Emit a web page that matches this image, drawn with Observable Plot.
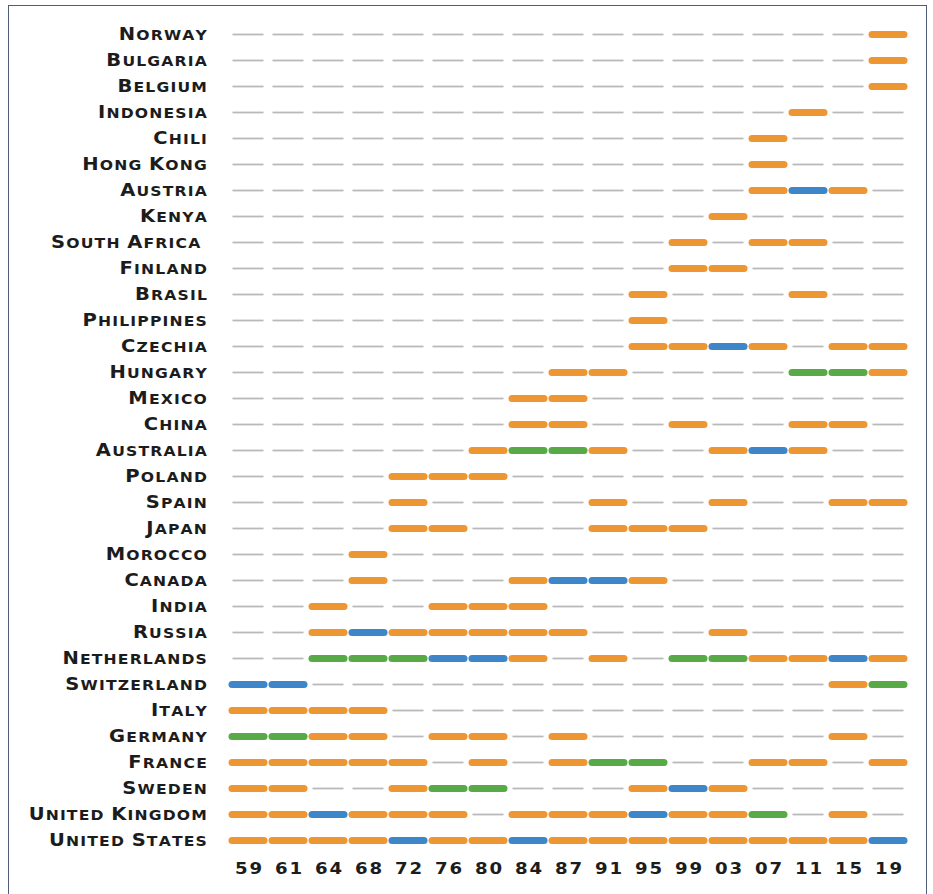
<!DOCTYPE html>
<html>
<head>
<meta charset="utf-8">
<script src="https://cdn.jsdelivr.net/npm/d3@7"></script>
<script src="https://cdn.jsdelivr.net/npm/@observablehq/plot@0.6"></script>
<style>
  html, body { margin: 0; padding: 0; background: #fff; }
  #wrap { position: relative; width: 933px; height: 894px; overflow: hidden; }
  #frame { position: absolute; left: 7.5px; top: 4.5px; width: 919.5px; height: 900px;
           border: 1.5px solid #4f5d78; border-bottom: none; box-sizing: border-box; pointer-events: none; }
  #chart { position: absolute; left: 0; top: 0; }
</style>
</head>
<body>
<div id="wrap"><div id="chart"></div><div id="frame"></div></div>
<script>
// Column labels (years)
const years = ["59","61","64","68","72","76","80","84","87","91","95","99","03","07","11","15","19"];

// Row labels, top to bottom
const countries = [
  "Norway","Bulgaria","Belgium","Indonesia","Chili","Hong Kong","Austria","Kenya",
  "South Africa\u00a0","Finland","Brasil","Philippines","Czechia","Hungary","Mexico","China",
  "Australia","Poland","Spain","Japan","Morocco","Canada","India","Russia",
  "Netherlands","Switzerland","Italy","Germany","France","Sweden","United Kingdom","United States"
];

// Status per country, one character per year: O = orange, B = blue, G = green, . = none
const status = [
  "................O", // Norway
  "................O", // Bulgaria
  "................O", // Belgium
  "..............O..", // Indonesia
  ".............O...", // Chili
  ".............O...", // Hong Kong
  ".............OBO.", // Austria
  "............O....", // Kenya
  "...........O.OO..", // South Africa
  "...........OO....", // Finland
  "..........O...O..", // Brasil
  "..........O......", // Philippines
  "..........OOBO.OO", // Czechia
  "........OO....GGO", // Hungary
  ".......OO........", // Mexico
  ".......OO..O..OO.", // China
  "......OGGO..OBO..", // Australia
  "....OOO..........", // Poland
  "....O....O..O..OO", // Spain
  "....OO...OOO.....", // Japan
  "...O.............", // Morocco
  "...O...OBBO......", // Canada
  "..O..OOO.........", // India
  "..OBOOOOO...O....", // Russia
  "..GGGBBO.O.GGOOBO", // Netherlands
  "BB.............OG", // Switzerland
  "OOOO.............", // Italy
  "GGOO.OO.O......O.", // Germany
  "OOOOO.O.OGG..OO.O", // France
  "OO..OGG...OBO....", // Sweden
  "OOBOOO.OOOBOOG.O.", // United Kingdom
  "OOOOBOOBOOOOOOOOB"  // United States
];

const codes = ["O","B","G"];
const colors = ["#ee9632","#3c86c9","#57aa45"];

const cells = [];
countries.forEach((c, i) => {
  [...status[i]].forEach((s, j) => cells.push({country: c, year: years[j], s}));
});

const chart = Plot.plot({
  width: 933,
  height: 894,
  marginTop: 31,
  marginBottom: 51,
  marginLeft: 227.5,
  marginRight: 25.5,
  style: {fontFamily: "'DejaVu Sans', sans-serif", background: "transparent", color: "#1c1c1c"},
  x: {type: "band", domain: years, padding: 0, label: null},
  y: {type: "point", domain: countries, padding: 0, label: null},
  color: {domain: codes, range: colors},
  marks: [
    Plot.tickY(cells.filter(d => d.s === "."), {
      x: "year", y: "country", stroke: "#b9b9b9", strokeWidth: 1.8, insetLeft: 4.5, insetRight: 4.5
    }),
    Plot.tickY(cells.filter(d => d.s !== "."), {
      x: "year", y: "country", stroke: "s", strokeWidth: 7, strokeLinecap: "round",
      insetLeft: 4, insetRight: 4
    }),
    Plot.axisX({anchor: "bottom", tickSize: 0, tickPadding: 19, fontSize: 16.5, fontWeight: "bold", label: null}),
    Plot.axisY({anchor: "left", tickSize: 0, tickPadding: 20, fontSize: 17, fontWeight: "bold", label: null})
  ]
});

document.getElementById("chart").appendChild(chart);

// wider tick labels
d3.select(chart).selectAll('g[aria-label="x-axis tick label"] text').each(function() {
  const tr = this.getAttribute("transform") || "";
  this.setAttribute("transform", tr + " scale(1.1,1)");
  d3.select(this).style("letter-spacing", "1.6px").attr("dx", "0.8");
});

// small caps styling for country labels, horizontally widened
d3.select(chart).selectAll('g[aria-label="y-axis tick label"] text').each(function() {
  const t = d3.select(this);
  const txt = this.textContent;
  const tr = this.getAttribute("transform") || "";
  this.setAttribute("transform", tr + " scale(1.15,1)");
  t.text(null).style("letter-spacing", "1px");
  let start = true;
  for (const ch of txt) {
    if (ch === " " || ch === "\u00a0") {
      t.append("tspan").attr("font-size", 13.6).text(ch);
      start = true;
    } else if (start) {
      t.append("tspan").attr("font-size", 17).text(ch.toUpperCase());
      start = false;
    } else {
      t.append("tspan").attr("font-size", 13.6).text(ch.toUpperCase());
    }
  }
});
</script>
</body>
</html>
